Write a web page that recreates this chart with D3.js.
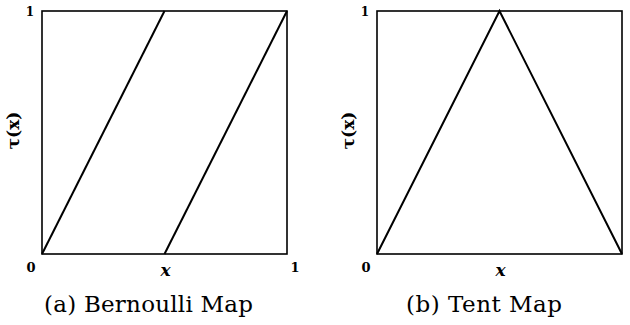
<!DOCTYPE html>
<html>
<head>
<meta charset="utf-8">
<script src="https://cdn.jsdelivr.net/npm/d3@7"></script>
<style>
  html, body { margin: 0; padding: 0; background: #fff; }
  svg { display: block; }
</style>
</head>
<body>
<svg id="chart" width="630" height="325"></svg>
<script>
// Bernoulli map τ(x) = 2x mod 1: two branches
const bernoulliLeft = [[0, 0], [0.5, 1]];
const bernoulliRight = [[0.5, 0], [1, 1]];
// Tent map τ(x) = 1 - |1 - 2x|
const tentPoints = [[0, 0], [0.5, 1], [1, 0]];

const panelTitles = ["(a) Bernoulli Map", "(b) Tent Map"];
const xAxisLabel = "x";
const yAxisLabel = "τ(x)";
const xTickLabelsA = ["0", "1"];
const xTickLabelsB = ["0"];
const yTickLabels = ["1"];

const SERIF = "DejaVu Serif";
const svg = d3.select("#chart");

function drawPanel(left, series, title, xTicks, captionCenter, captionWidth) {
  const W = 245, H = 243, top = 11;
  const x = d3.scaleLinear().domain([0, 1]).range([left, left + W]);
  const y = d3.scaleLinear().domain([0, 1]).range([top + H, top]);
  const g = svg.append("g");

  g.append("rect")
    .attr("x", x(0)).attr("y", y(1))
    .attr("width", x(1) - x(0)).attr("height", y(0) - y(1))
    .attr("fill", "none").attr("stroke", "#000").attr("stroke-width", 1.6);

  const line = d3.line().x(d => x(d[0])).y(d => y(d[1]));
  series.forEach(s => {
    g.append("path").attr("d", line(s))
      .attr("fill", "none").attr("stroke", "#000")
      .attr("stroke-width", 2).attr("stroke-linejoin", "miter");
  });

  // tick labels along x (at 0 and 1)
  xTicks.forEach((t, i) => {
    g.append("text")
      .attr("x", i === 0 ? x(0) - 11 : x(1) + 8)
      .attr("y", y(0) + 18)
      .attr("text-anchor", "middle")
      .attr("font-family", SERIF)
      .attr("font-weight", "bold").attr("font-size", 13)
      .text(t);
  });
  // top-left tick "1"
  g.append("text")
    .attr("x", x(0) - 12).attr("y", y(1) + 5)
    .attr("text-anchor", "middle")
    .attr("font-family", SERIF)
    .attr("font-weight", "bold").attr("font-size", 12)
    .text(yTickLabels[0]);

  // x axis label
  g.append("text")
    .attr("x", x(0.5) + 1).attr("y", y(0) + 22)
    .attr("text-anchor", "middle")
    .attr("font-family", SERIF)
    .attr("font-weight", "bold").attr("font-style", "italic")
    .attr("font-size", 17)
    .text(xAxisLabel);

  // y axis label (rotated)
  g.append("text")
    .attr("transform", `translate(${x(0) - 23},${y(0.5) - 2}) rotate(-90)`)
    .attr("text-anchor", "middle")
    .attr("font-family", SERIF)
    .attr("font-weight", "bold")
    .attr("font-size", 17)
    .text(yAxisLabel);

  // caption
  g.append("text")
    .attr("x", captionCenter - captionWidth / 2).attr("y", 312)
    .attr("font-family", SERIF)
    .attr("font-size", 23)
    .attr("textLength", captionWidth)
    .attr("lengthAdjust", "spacing")
    .text(title);
}

drawPanel(42, [bernoulliLeft, bernoulliRight], panelTitles[0], xTickLabelsA, 148.5, 209);
drawPanel(377, [tentPoints], panelTitles[1], xTickLabelsB, 484, 156);
</script>
</body>
</html>
